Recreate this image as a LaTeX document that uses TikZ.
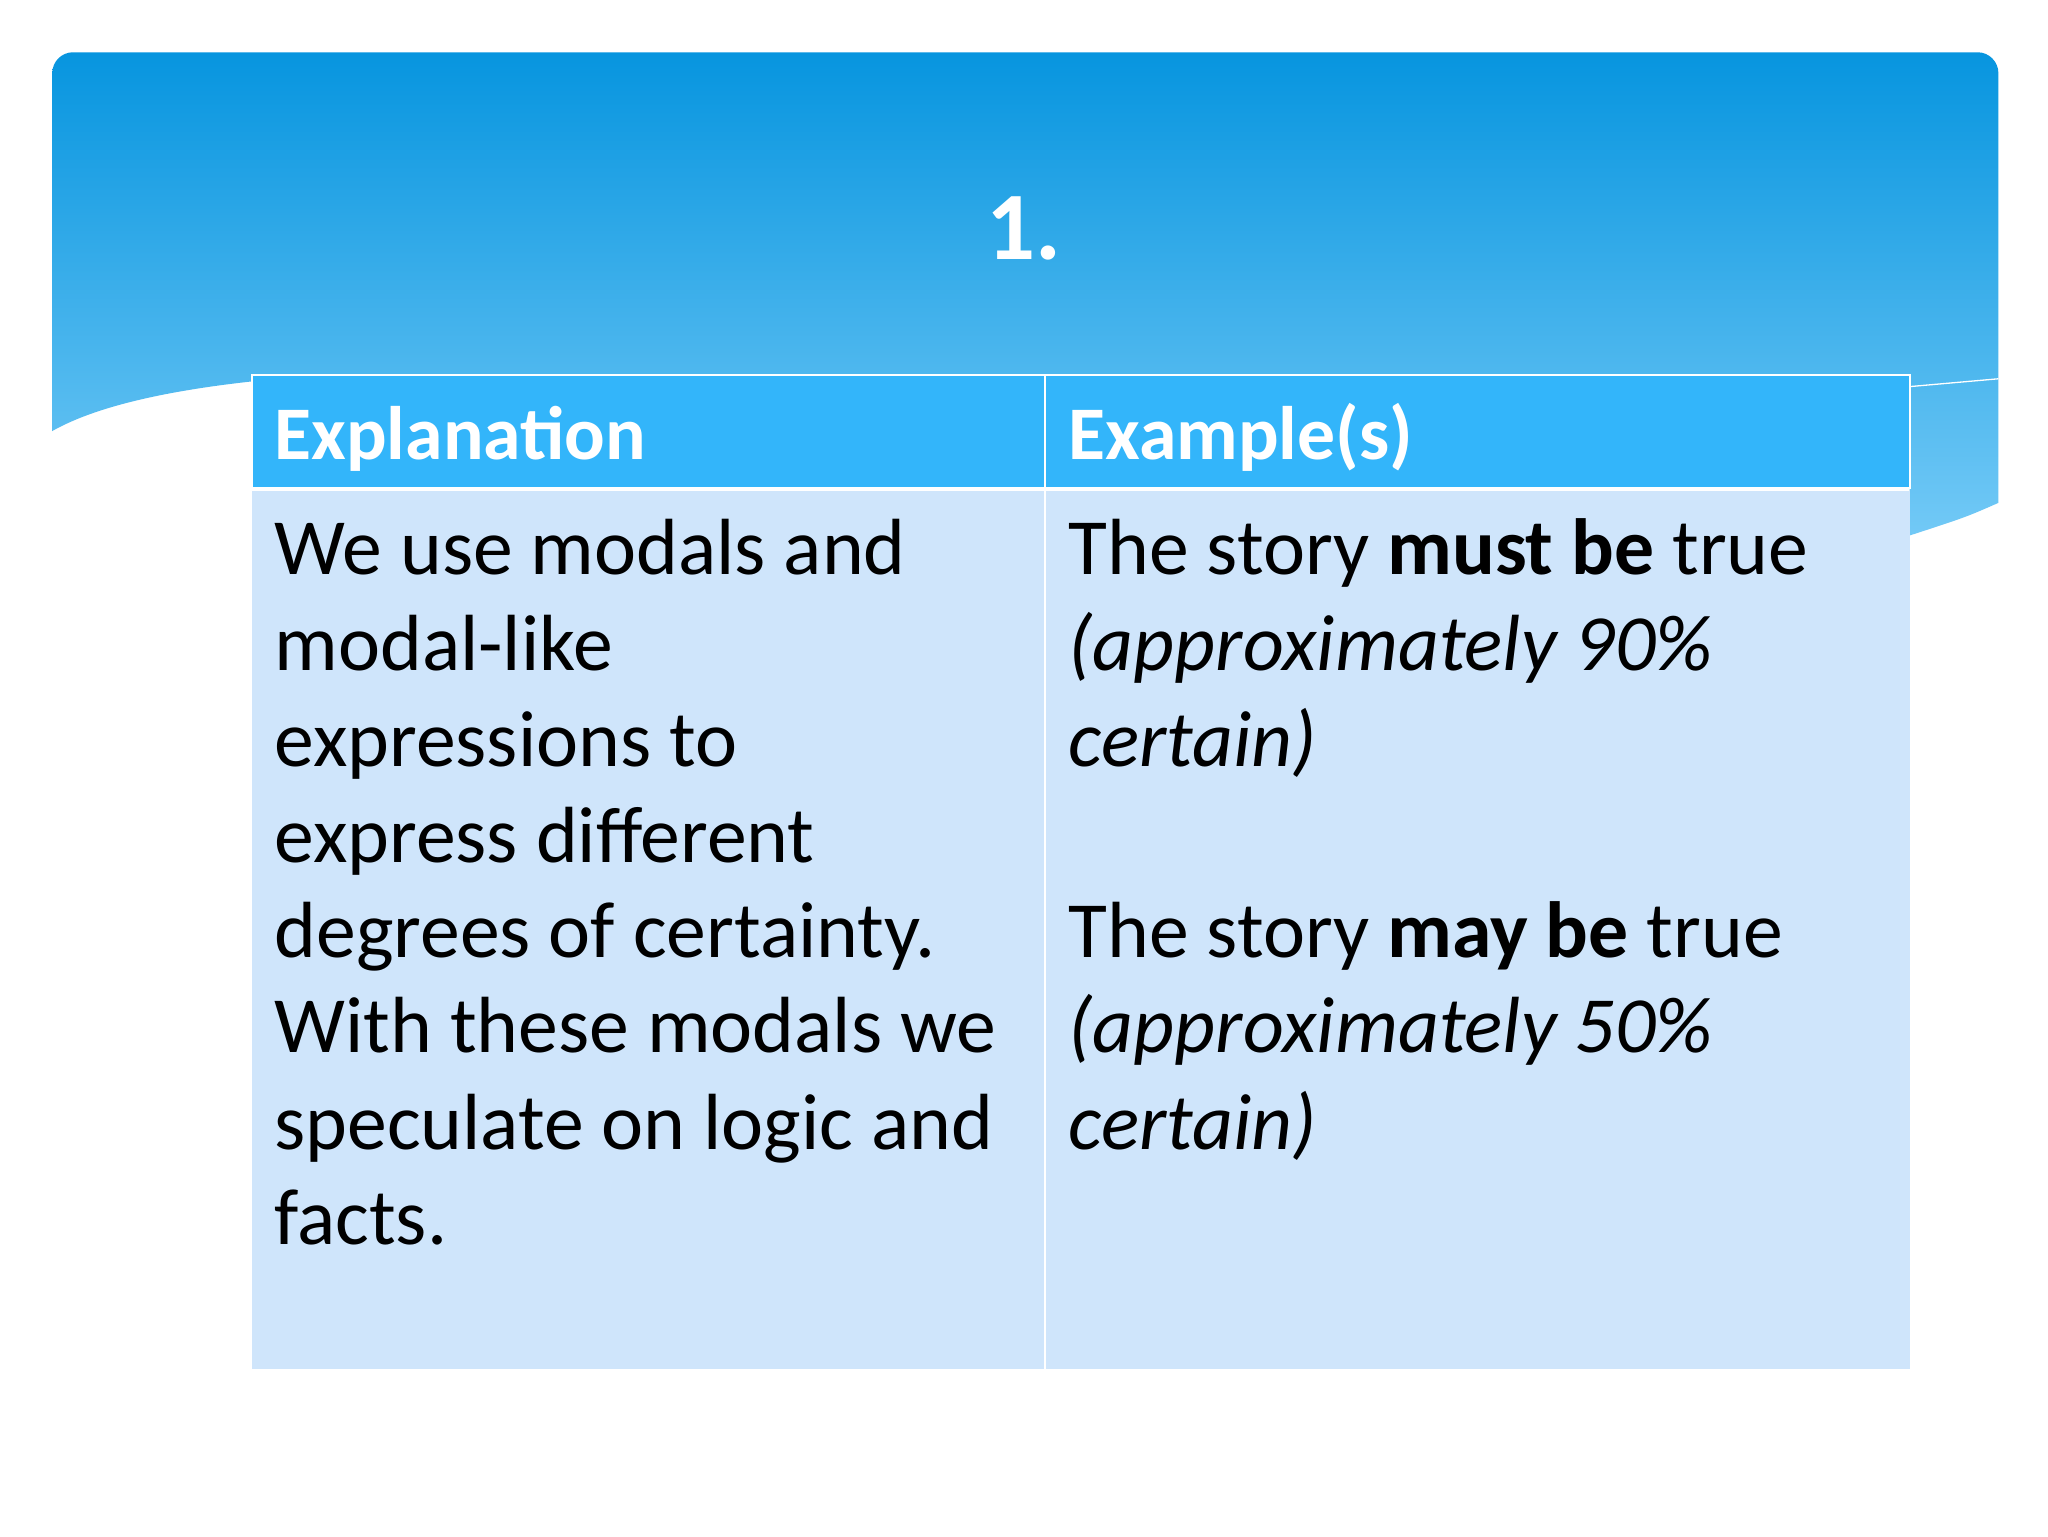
\documentclass[tikz,border=0pt]{standalone}
\usepackage{fontspec}
\setmainfont{Carlito}
\begin{document}
\begin{tikzpicture}[x=1pt,y=-1pt,
  bl/.style={anchor=base west,inner sep=0pt,font=\fontsize{61}{63}\selectfont,text=black},
  hd/.style={anchor=base west,inner sep=0pt,font=\fontsize{58}{60}\selectfont\bfseries,text=white}]
\definecolor{topc}{HTML}{0795DF}
\definecolor{botc}{HTML}{72C9F6}
\definecolor{hdc}{HTML}{33B5FA}
\definecolor{bodyc}{HTML}{CFE5FB}
\useasboundingbox (0,0) rectangle (1568,1176);
\fill[white] (0,0) rectangle (1568,1176);
\shade[top color=topc,bottom color=botc]
 (40,330) [rounded corners=16] -- (40,40) -- (1530,40) [rounded corners=0] -- (1530,385)
 .. controls (1505,396) .. (1462,410) -- (1462,292) -- (193,292)
 .. controls (120,300) and (70,313) .. (40,330) -- cycle;
\draw[white,line width=1pt] (1462,296) -- (1530,290);
\node[inner sep=0pt,text=white,font=\fontsize{74}{74}\selectfont\bfseries] (title) at (784,175) {1.};
\fill[hdc] (193,287) rectangle (1462,373);
\fill[bodyc] (193,376) rectangle (1462,1048);
\draw[white,line width=1.5pt] (193,287) rectangle (1462,374);
\draw[white,line width=1.5pt] (800,287) -- (800,1048);
\node[hd] (h1) at (210,352) {Explanation};
\node[hd] (h2) at (818,352) {Example(s)};
\node[bl] (l1) at (210,440) {We use modals and};
\node[bl] (l2) at (210,513) {modal-like};
\node[bl] (l3) at (210,587) {expressions to};
\node[bl] (l4) at (210,660) {express different};
\node[bl] (l5) at (210,733) {degrees of certainty.};
\node[bl] (l6) at (210,806) {With these modals we};
\node[bl] (l7) at (210,880) {speculate on logic and};
\node[bl] (l8) at (210,953) {facts.};
\node[bl] (r1) at (818,440) {The story \textbf{must be} true};
\node[bl] (r2) at (818,513) {\itshape (approximately 90\%};
\node[bl] (r3) at (818,587) {\itshape certain)};
\node[bl] (r4) at (818,733) {The story \textbf{may be} true};
\node[bl] (r5) at (818,806) {\itshape (approximately 50\%};
\node[bl] (r6) at (818,880) {\itshape certain)};
\end{tikzpicture}
\end{document}
